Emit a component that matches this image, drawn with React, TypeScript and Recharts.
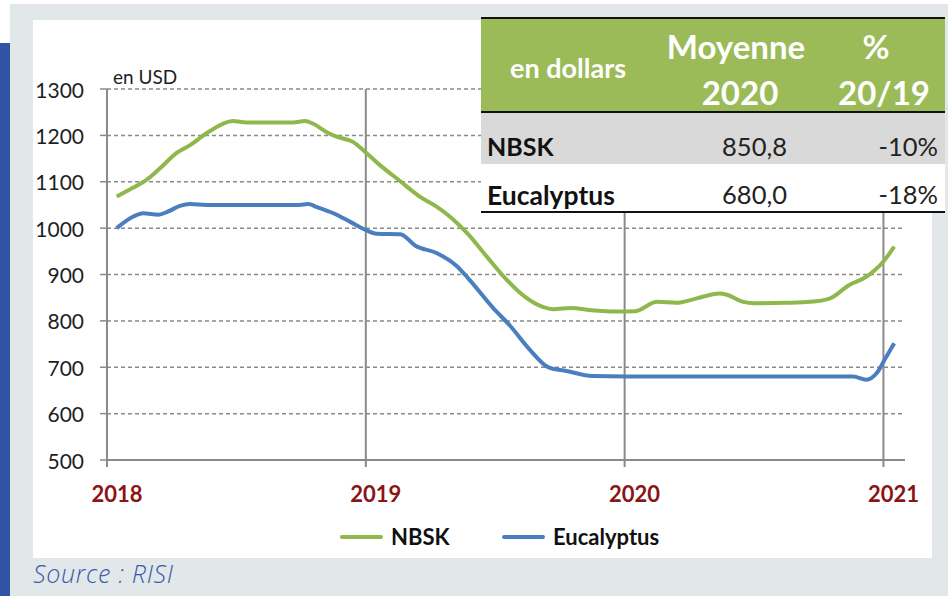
import React from 'react';
import { LineChart, Line, XAxis, YAxis, Legend, ReferenceLine } from 'recharts';

// ---- data (months since Jan 2018) ----
const nbskMonths = [0.45, 1.2, 1.83, 2.46, 3.2, 3.85, 4.6, 5.37, 5.84, 6.47, 7.5, 8.63, 9.18, 9.56, 10.3, 10.8, 11.4, 12.0, 12.6, 13.6, 14.5, 15.3, 16.0, 16.7, 17.6, 18.5, 19.4, 20.2, 20.7, 21.5, 22.5, 23.5, 24.5, 25.5, 26.4, 27.3, 28.4, 28.7, 29.5, 30.0, 31.5, 32.6, 33.5, 34.4, 35.2, 36.0, 36.5];
const nbskValues = [1068, 1087, 1104, 1129, 1161, 1179, 1204, 1225, 1231, 1228, 1228, 1228, 1231, 1225, 1204, 1195, 1186, 1163, 1138, 1101, 1068, 1046, 1021, 989, 939, 890, 851, 830, 825, 828, 823, 820, 821, 841, 839, 848, 859, 857, 841, 838, 839, 841, 848, 877, 895, 928, 960];

const eucaMonths = [0.45, 1.22, 1.68, 2.38, 2.84, 3.38, 3.85, 4.6, 6.5, 8.9, 9.33, 9.7, 10.5, 11.26, 12.0, 12.5, 13.6, 14.3, 15.3, 16.2, 16.8, 17.9, 18.7, 19.6, 20.5, 21.3, 22.5, 24.1, 30.0, 34.6, 35.2, 35.7, 36.1, 36.5];
const eucaValues = [1000, 1025, 1032, 1029, 1036, 1048, 1052, 1050, 1050, 1050, 1052, 1046, 1032, 1014, 996, 988, 987, 962, 946, 919, 889, 828, 789, 738, 699, 692, 681, 680, 680, 680, 673, 688, 720, 752];

const yearTicks = [0, 12, 24, 36];
const yearLabels = ['2018', '2019', '2020', '2021'];
const yTicks = [500, 600, 700, 800, 900, 1000, 1100, 1200, 1300];
const xDomain = [0, 37];

const seriesNames = ['NBSK', 'Eucalyptus'];
const tableHeader = ['en dollars', 'Moyenne', '2020', '%', '20/19'];
const tableRows = ['NBSK', 'Eucalyptus'];
const tableAvg = ['850,8', '680,0'];
const tableChange = ['-10%', '-18%'];

const nbskData = nbskMonths.map((m, i) => ({ m, v: nbskValues[i] }));
const eucaData = eucaMonths.map((m, i) => ({ m, v: eucaValues[i] }));

const GREEN = '#8fb84c';
const BLUE = '#4a7ebf';
const GRID = '#8a8a8a';
const FONT = 'Lato, "Open Sans", sans-serif';
const LEGEND_H = 30;

const XTick = (props: any) => {
  const { x, y, payload } = props;
  const idx = yearTicks.indexOf(payload.value);
  return (
    <text x={x + 10} y={y + 26} textAnchor="middle" dominantBaseline="central"
      fill="#8b1414" fontWeight={700} fontSize={22} fontFamily={FONT}>
      {yearLabels[idx]}
    </text>
  );
};

const YTick = (props: any) => {
  const { y, payload } = props;
  return (
    <text x={84} y={y} textAnchor="end" dominantBaseline="central"
      fill="#1e1e1e" fontSize={21} fontFamily={FONT}>
      {payload.value}
    </text>
  );
};

const LegendContent = () => (
  <div style={{ position: 'relative', width: 948, height: LEGEND_H, fontFamily: FONT }}>
    {[GREEN, BLUE].map((c, i) => (
      <React.Fragment key={i}>
        <div style={{ position: 'absolute', left: i === 0 ? 340 : 502, top: 11, width: 43, height: 4, background: c, borderRadius: 2 }} />
        <div style={{ position: 'absolute', left: i === 0 ? 391 : 553, top: 0, fontSize: 22, fontWeight: 700, color: '#111', lineHeight: '26px' }}>
          {seriesNames[i]}
        </div>
      </React.Fragment>
    ))}
  </div>
);

export default function App() {
  const cellText: React.CSSProperties = { position: 'absolute', fontFamily: FONT, whiteSpace: 'nowrap', lineHeight: 1 };
  return (
    <div style={{ position: 'absolute', left: 0, top: 0, width: 948, height: 596, background: '#fff', overflow: 'hidden' }}>
      <div style={{ position: 'absolute', left: 10, top: 4, width: 938, height: 592, background: '#e2e7ea' }} />
      <div style={{ position: 'absolute', left: 0, top: 43, width: 10, height: 553, background: '#2f54a3' }} />
      <div style={{ position: 'absolute', left: 33, top: 20, width: 899, height: 538, background: '#fff' }} />

      <div style={{ position: 'absolute', left: 0, top: 0 }}>
        <LineChart width={948} height={596} margin={{ top: 89, right: 43, bottom: 96 - LEGEND_H, left: 27 }}>
          {yTicks.slice(1).map((t) => (
            <ReferenceLine key={'h' + t} y={t} stroke={GRID} strokeWidth={1.5} strokeDasharray="4 3" ifOverflow="visible" />
          ))}
          {yearTicks.slice(1).map((t) => (
            <ReferenceLine key={'v' + t} x={t} stroke={GRID} strokeWidth={2} ifOverflow="visible" />
          ))}
          <XAxis dataKey="m" type="number" domain={xDomain} ticks={yearTicks} allowDataOverflow
            height={40} tick={<XTick />} tickSize={7} tickMargin={0}
            axisLine={{ stroke: GRID, strokeWidth: 2 }} tickLine={{ stroke: GRID, strokeWidth: 2 }} />
          <YAxis type="number" domain={[500, 1300]} ticks={yTicks} width={80} tick={<YTick />}
            tickSize={7} axisLine={{ stroke: GRID, strokeWidth: 2 }} tickLine={{ stroke: GRID, strokeWidth: 1.5 }} />
          <Line data={nbskData} dataKey="v" name={seriesNames[0]} type="monotone" stroke={GREEN} strokeWidth={4}
            dot={false} isAnimationActive={false} />
          <Line data={eucaData} dataKey="v" name={seriesNames[1]} type="monotone" stroke={BLUE} strokeWidth={4}
            dot={false} isAnimationActive={false} />
          <Legend content={<LegendContent />} height={LEGEND_H}
            wrapperStyle={{ position: 'absolute', left: 0, top: 524, width: 948, height: LEGEND_H }} />
        </LineChart>
      </div>

      <div style={{ ...cellText, left: 113, top: 67, fontSize: 19, color: '#1e1e1e' }}>en USD</div>

      {/* table */}
      <div style={{ position: 'absolute', left: 481, top: 17, width: 464, height: 197 }}>
        <div style={{ position: 'absolute', left: 0, top: 0, width: 464, height: 2, background: '#111' }} />
        <div style={{ position: 'absolute', left: 0, top: 2, width: 464, height: 92, background: '#9bbb59' }} />
        <div style={{ position: 'absolute', left: 0, top: 94, width: 464, height: 2, background: '#111' }} />
        <div style={{ position: 'absolute', left: 0, top: 96, width: 464, height: 51, background: '#d9d9d9' }} />
        <div style={{ position: 'absolute', left: 0, top: 147, width: 464, height: 47, background: '#fff' }} />
        <div style={{ position: 'absolute', left: 0, top: 194, width: 464, height: 2, background: '#111' }} />

        <div style={{ ...cellText, left: 17, top: 37, width: 140, textAlign: 'center', fontSize: 27, fontWeight: 700, color: '#fff' }}>{tableHeader[0]}</div>
        <div style={{ ...cellText, left: 165, top: 13, width: 180, textAlign: 'center', fontSize: 33, fontWeight: 700, color: '#fff' }}>{tableHeader[1]}</div>
        <div style={{ ...cellText, left: 169, top: 59, width: 180, textAlign: 'center', fontSize: 33, fontWeight: 700, color: '#fff' }}>{tableHeader[2]}</div>
        <div style={{ ...cellText, left: 355, top: 13, width: 80, textAlign: 'center', fontSize: 33, fontWeight: 700, color: '#fff' }}>{tableHeader[3]}</div>
        <div style={{ ...cellText, left: 353, top: 59, width: 100, textAlign: 'center', fontSize: 33, fontWeight: 700, color: '#fff' }}>{tableHeader[4]}</div>

        {tableRows.map((r, i) => (
          <React.Fragment key={r}>
            <div style={{ ...cellText, left: 6, top: 117 + i * 48, fontSize: i === 0 ? 25 : 26.5, fontWeight: 700, color: '#111' }}>{r}</div>
            <div style={{ ...cellText, right: 464 - 306, top: 117 + i * 48, fontSize: 25.5, color: '#222' }}>{tableAvg[i]}</div>
            <div style={{ ...cellText, right: 464 - 457, top: 117 + i * 48, fontSize: 25.5, color: '#222' }}>{tableChange[i]}</div>
          </React.Fragment>
        ))}
      </div>

      <div style={{ ...cellText, left: 33, top: 561, fontSize: 25, letterSpacing: 0.7, fontStyle: 'italic', fontWeight: 300, color: '#3a5ca8', fontFamily: '"Open Sans", Lato, sans-serif' }}>Source : RISI</div>
    </div>
  );
}
